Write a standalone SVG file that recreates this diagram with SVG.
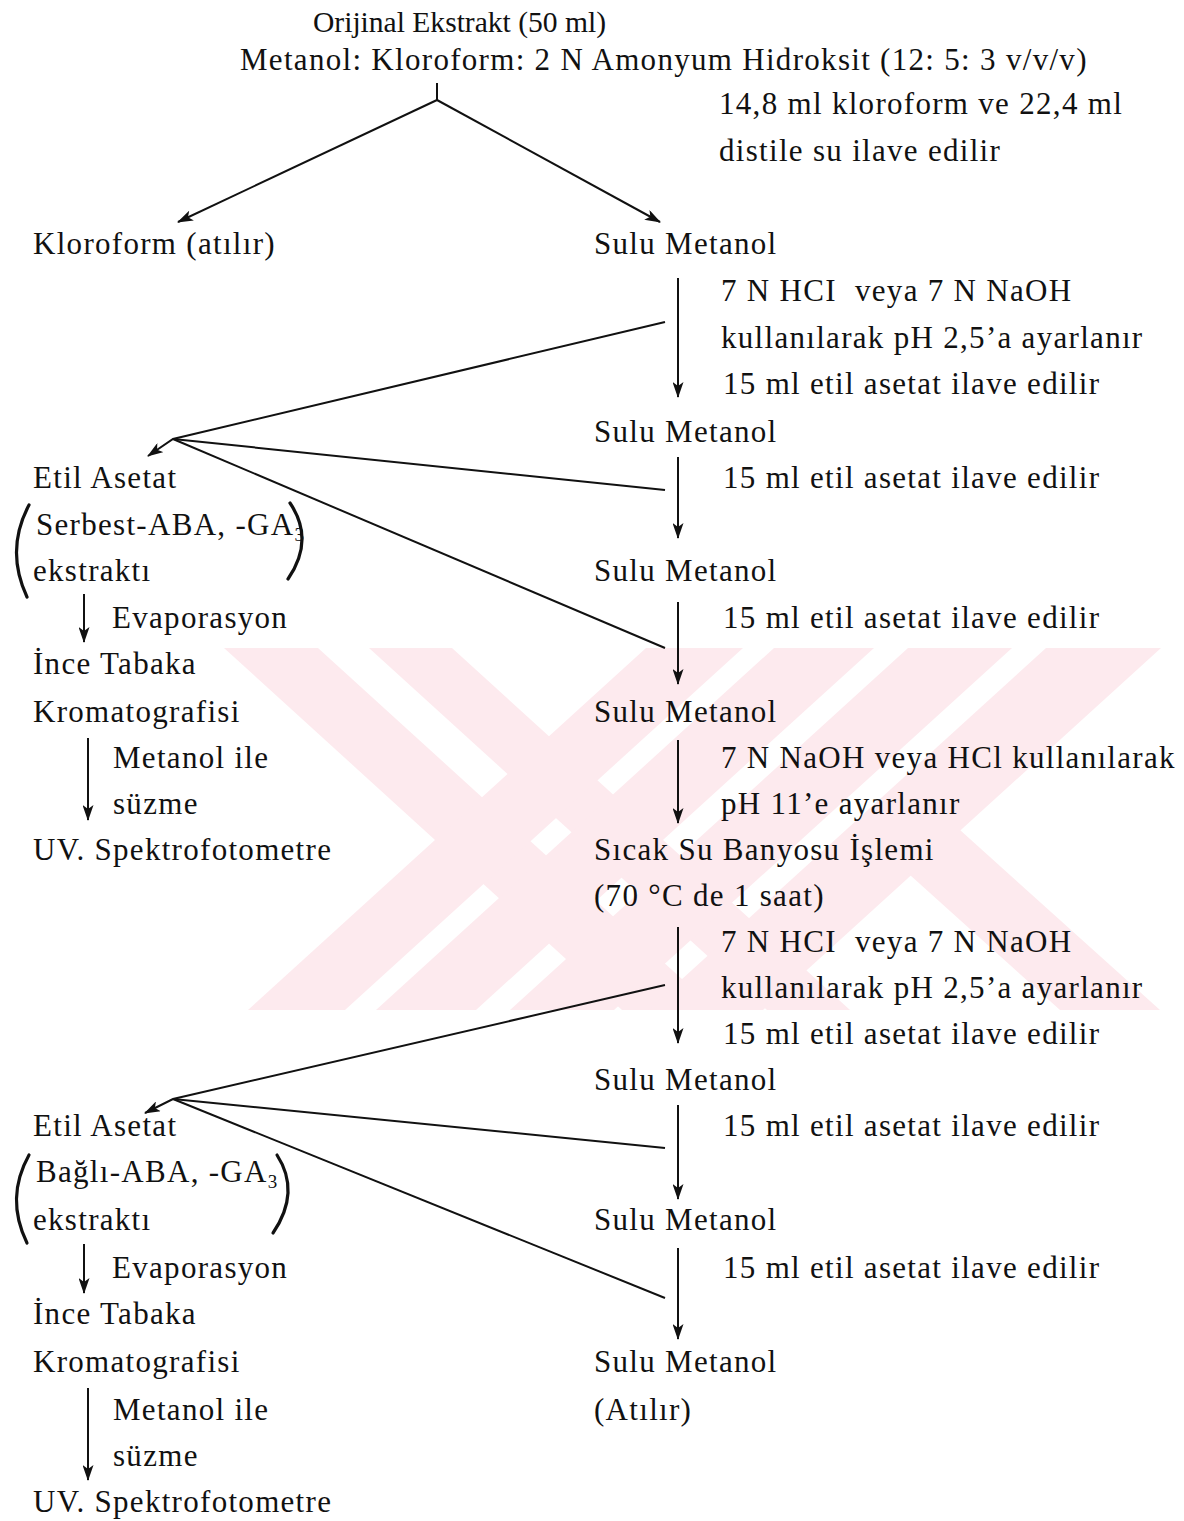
<svg xmlns="http://www.w3.org/2000/svg" width="1184" height="1521" viewBox="0 0 1184 1521">
<style>
text{font-family:"Liberation Serif","Times New Roman",serif;font-size:31px;letter-spacing:1.3px;fill:#111;white-space:pre}
.c{stroke:#111;stroke-width:2;fill:none}
.p{stroke:#111;stroke-width:3.2;fill:none;stroke-linecap:round}
.wm{fill:#fdeaee}
.sub{font-size:19px;letter-spacing:0}
</style>
<defs>
<marker id="ah" viewBox="0 0 16 11" refX="15" refY="5.5" markerWidth="16" markerHeight="11" markerUnits="userSpaceOnUse" orient="auto">
<path d="M0,0 L16,5.5 L0,11 L4,5.5 z" fill="#111"/>
</marker>
<clipPath id="wmclip"><rect x="0" y="648" width="1184" height="362"/></clipPath>
</defs>
<rect width="1184" height="1521" fill="#fff"/>
<g id="watermark" clip-path="url(#wmclip)">
<polygon class="wm" points="224,648 318,648 716,1010 622,1010"/>
<polygon class="wm" points="369,648 452,648 850,1010 767,1010"/>
<polygon class="wm" points="646,648 743,648 345,1010 248,1010"/>
<polygon class="wm" points="774,648 874,648 476,1010 376,1010"/>
<polygon class="wm" points="908,648 1012,648 614,1010 510,1010"/>
<polygon class="wm" points="1046,648 1161,648 763,1010 648,1010"/>
<polygon class="wm" points="860,830 960,830 1160,1010 1060,1010"/>
</g>
<g id="connectors">
<path class="c" d="M437,83 L437,100"/>
<path class="c" d="M437,100 L178,222" marker-end="url(#ah)"/>
<path class="c" d="M437,100 L660,222" marker-end="url(#ah)"/>
<path class="c" d="M678,278 L678,397" marker-end="url(#ah)"/>
<path class="c" d="M665,322 L173,439 L148,456" marker-end="url(#ah)"/>
<path class="c" d="M173,439 L665,490"/>
<path class="c" d="M173,439 L665,648"/>
<path class="c" d="M678,457 L678,538" marker-end="url(#ah)"/>
<path class="c" d="M678,602 L678,684" marker-end="url(#ah)"/>
<path class="c" d="M678,740 L678,823" marker-end="url(#ah)"/>
<path class="c" d="M678,927 L678,1043" marker-end="url(#ah)"/>
<path class="c" d="M665,985 L173,1099 L145,1113" marker-end="url(#ah)"/>
<path class="c" d="M173,1099 L665,1148"/>
<path class="c" d="M173,1099 L665,1298"/>
<path class="c" d="M678,1105 L678,1199" marker-end="url(#ah)"/>
<path class="c" d="M678,1248 L678,1339" marker-end="url(#ah)"/>
<path class="c" d="M84,594 L84,642" marker-end="url(#ah)"/>
<path class="c" d="M88,738 L88,820" marker-end="url(#ah)"/>
<path class="c" d="M84,1244 L84,1293" marker-end="url(#ah)"/>
<path class="c" d="M88,1388 L88,1480" marker-end="url(#ah)"/>
</g>
<g id="n-orijinal"><text x="313" y="32" style="font-size:30px;letter-spacing:0" textLength="293" lengthAdjust="spacingAndGlyphs">Orijinal Ekstrakt (50 ml)</text><text x="240" y="70">Metanol: Kloroform: 2 N Amonyum Hidroksit (12: 5: 3 v/v/v)</text></g>
<g id="l-top"><text x="719" y="114">14,8 ml kloroform ve 22,4 ml</text><text x="719" y="161">distile su ilave edilir</text></g>
<g id="n-kloroform"><text x="33" y="254">Kloroform (atılır)</text></g>
<g id="n-sulu1"><text x="594" y="254">Sulu Metanol</text></g>
<g id="l-1"><text x="721" y="301">7 N HCI  veya 7 N NaOH</text><text x="721" y="348">kullanılarak pH 2,5’a ayarlanır</text><text x="723" y="394">15 ml etil asetat ilave edilir</text></g>
<g id="n-sulu2"><text x="594" y="442">Sulu Metanol</text></g>
<g id="l-2"><text x="723" y="488">15 ml etil asetat ilave edilir</text></g>
<g id="n-etil1">
<text x="33" y="488">Etil Asetat</text>
<text x="36" y="535">Serbest-ABA, -GA<tspan class="sub" dy="6">3</tspan></text>
<text x="33" y="581">ekstraktı</text>
<path class="p" d="M29,505 Q5,550 27,597"/>
<path class="p" d="M290,503 Q315,540 288,579"/>
</g>
<g id="n-sulu3"><text x="594" y="581">Sulu Metanol</text></g>
<g id="l-3"><text x="723" y="628">15 ml etil asetat ilave edilir</text></g>
<g id="l-evap1"><text x="112" y="628">Evaporasyon</text></g>
<g id="n-ince1"><text x="33" y="674">İnce Tabaka</text><text x="33" y="722">Kromatografisi</text></g>
<g id="n-sulu4"><text x="594" y="722">Sulu Metanol</text></g>
<g id="l-met1"><text x="113" y="768">Metanol ile</text><text x="113" y="814">süzme</text></g>
<g id="l-4"><text x="721" y="768">7 N NaOH veya HCl kullanılarak</text><text x="721" y="814">pH 11’e ayarlanır</text></g>
<g id="n-uv1"><text x="33" y="860">UV. Spektrofotometre</text></g>
<g id="n-sicak"><text x="594" y="860">Sıcak Su Banyosu İşlemi</text><text x="594" y="906">(70 °C de 1 saat)</text></g>
<g id="l-5"><text x="721" y="952">7 N HCI  veya 7 N NaOH</text><text x="721" y="998">kullanılarak pH 2,5’a ayarlanır</text><text x="723" y="1044">15 ml etil asetat ilave edilir</text></g>
<g id="n-sulu5"><text x="594" y="1090">Sulu Metanol</text></g>
<g id="n-etil2">
<text x="33" y="1136">Etil Asetat</text>
<text x="36" y="1182">Bağlı-ABA, -GA<tspan class="sub" dy="6">3</tspan></text>
<text x="33" y="1230">ekstraktı</text>
<path class="p" d="M29,1155 Q5,1198 27,1243"/>
<path class="p" d="M277,1155 Q301,1192 273,1233"/>
</g>
<g id="l-6"><text x="723" y="1136">15 ml etil asetat ilave edilir</text></g>
<g id="n-sulu6"><text x="594" y="1230">Sulu Metanol</text></g>
<g id="l-7"><text x="723" y="1278">15 ml etil asetat ilave edilir</text></g>
<g id="l-evap2"><text x="112" y="1278">Evaporasyon</text></g>
<g id="n-ince2"><text x="33" y="1324">İnce Tabaka</text><text x="33" y="1372">Kromatografisi</text></g>
<g id="n-sulu7"><text x="594" y="1372">Sulu Metanol</text><text x="594" y="1420">(Atılır)</text></g>
<g id="l-met2"><text x="113" y="1420">Metanol ile</text><text x="113" y="1466">süzme</text></g>
<g id="n-uv2"><text x="33" y="1512">UV. Spektrofotometre</text></g>
</svg>
